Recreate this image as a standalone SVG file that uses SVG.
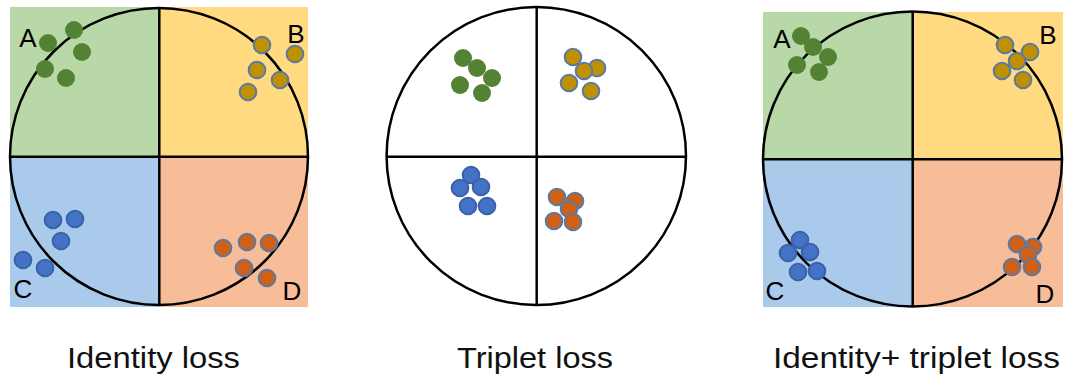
<svg xmlns="http://www.w3.org/2000/svg" width="1070" height="378" viewBox="0 0 1070 378">
<style>
.ring{fill:none;stroke:#000;stroke-width:2.5}
.ax{stroke:#000;stroke-width:2.5}
.g{fill:#548235}
.y{fill:#BF9000;stroke:#5A7AA6;stroke-width:2}
.b{fill:#4472C4;stroke:#3A62A8;stroke-width:2}
.o{fill:#CF6016;stroke:#5A7AA6;stroke-width:2}
.lbl{font-family:"Liberation Sans",Arial,sans-serif;font-size:26px;fill:#000;text-anchor:middle}
.cap{font-family:"Liberation Sans",Arial,sans-serif;font-size:29px;fill:#111}
</style>
<rect width="1070" height="378" fill="#fff"/>

<g id="panel-identity">
  <rect x="10" y="7" width="149.3" height="149.7" fill="#B9D8A7"/>
  <rect x="159.3" y="7" width="148.7" height="149.7" fill="#FFDA80"/>
  <rect x="10" y="156.7" width="149.3" height="150.3" fill="#A9CAEA"/>
  <rect x="159.3" y="156.7" width="148.7" height="150.3" fill="#F6BD98"/>
  <ellipse class="ring" cx="159" cy="156.5" rx="149" ry="148.5"/>
  <line class="ax" x1="159.3" y1="8" x2="159.3" y2="305"/>
  <line class="ax" x1="10" y1="156.7" x2="308" y2="156.7"/>
  <text class="lbl" x="28" y="47">A</text>
  <text class="lbl" x="296" y="43">B</text>
  <text class="lbl" x="23" y="298">C</text>
  <text class="lbl" x="292" y="300">D</text>
  <g id="id-A">
    <circle class="g" cx="48" cy="43" r="9"/>
    <circle class="g" cx="74" cy="30" r="9"/>
    <circle class="g" cx="82" cy="52" r="9"/>
    <circle class="g" cx="45" cy="69" r="9"/>
    <circle class="g" cx="66" cy="78" r="9"/>
  </g>
  <g id="id-B">
    <circle class="y" cx="262" cy="45" r="8.3"/>
    <circle class="y" cx="295" cy="54" r="8.3"/>
    <circle class="y" cx="257" cy="70" r="8.3"/>
    <circle class="y" cx="280" cy="80" r="8.3"/>
    <circle class="y" cx="248" cy="92" r="8.3"/>
  </g>
  <g id="id-C">
    <circle class="b" cx="53" cy="220" r="8.3"/>
    <circle class="b" cx="75" cy="219" r="8.3"/>
    <circle class="b" cx="61" cy="241" r="8.3"/>
    <circle class="b" cx="23" cy="260" r="8.3"/>
    <circle class="b" cx="45" cy="268" r="8.3"/>
  </g>
  <g id="id-D">
    <circle class="o" cx="223" cy="248" r="8.3"/>
    <circle class="o" cx="247" cy="242" r="8.3"/>
    <circle class="o" cx="269" cy="243" r="8.3"/>
    <circle class="o" cx="244" cy="268" r="8.3"/>
    <circle class="o" cx="267" cy="278" r="8.3"/>
  </g>
  <text class="cap" x="67" y="368" textLength="173" lengthAdjust="spacingAndGlyphs">Identity loss</text>
</g>

<g id="panel-triplet">
  <ellipse class="ring" cx="536.3" cy="156" rx="149.7" ry="149"/>
  <line class="ax" x1="536.7" y1="7" x2="536.7" y2="305"/>
  <line class="ax" x1="386.7" y1="156.7" x2="686" y2="156.7"/>
  <g id="tr-A">
    <circle class="g" cx="463" cy="58" r="9"/>
    <circle class="g" cx="477" cy="68" r="9"/>
    <circle class="g" cx="492" cy="78" r="9"/>
    <circle class="g" cx="460" cy="85" r="9"/>
    <circle class="g" cx="482" cy="93" r="9"/>
  </g>
  <g id="tr-B">
    <circle class="y" cx="573" cy="57" r="8.3"/>
    <circle class="y" cx="597" cy="68" r="8.3"/>
    <circle class="y" cx="584" cy="71" r="8.3"/>
    <circle class="y" cx="569" cy="83" r="8.3"/>
    <circle class="y" cx="591" cy="91" r="8.3"/>
  </g>
  <g id="tr-C">
    <circle class="b" cx="471" cy="175" r="8.3"/>
    <circle class="b" cx="460" cy="188" r="8.3"/>
    <circle class="b" cx="481" cy="187" r="8.3"/>
    <circle class="b" cx="468" cy="206" r="8.3"/>
    <circle class="b" cx="487" cy="206" r="8.3"/>
  </g>
  <g id="tr-D">
    <circle class="o" cx="557" cy="197" r="8.3"/>
    <circle class="o" cx="575" cy="201" r="8.3"/>
    <circle class="o" cx="569" cy="209" r="8.3"/>
    <circle class="o" cx="554" cy="221" r="8.3"/>
    <circle class="o" cx="573" cy="222" r="8.3"/>
  </g>
  <text class="cap" x="457" y="368" textLength="156" lengthAdjust="spacingAndGlyphs">Triplet loss</text>
</g>

<g id="panel-combined">
  <rect x="763" y="12" width="149.7" height="147.3" fill="#B9D8A7"/>
  <rect x="912.7" y="12" width="150.3" height="147.3" fill="#FFDA80"/>
  <rect x="763" y="159.3" width="149.7" height="147.7" fill="#A9CAEA"/>
  <rect x="912.7" y="159.3" width="150.3" height="147.7" fill="#F6BD98"/>
  <ellipse class="ring" cx="912.5" cy="159" rx="149.5" ry="147.5"/>
  <line class="ax" x1="912.7" y1="12" x2="912.7" y2="306"/>
  <line class="ax" x1="763" y1="159.3" x2="1062" y2="159.3"/>
  <text class="lbl" x="782" y="48">A</text>
  <text class="lbl" x="1048" y="44">B</text>
  <text class="lbl" x="775" y="300">C</text>
  <text class="lbl" x="1045" y="303">D</text>
  <g id="co-A">
    <circle class="g" cx="801" cy="36" r="9"/>
    <circle class="g" cx="813" cy="47" r="9"/>
    <circle class="g" cx="828" cy="57" r="9"/>
    <circle class="g" cx="797" cy="65" r="9"/>
    <circle class="g" cx="819" cy="72" r="9"/>
  </g>
  <g id="co-B">
    <circle class="y" cx="1005" cy="45" r="8.3"/>
    <circle class="y" cx="1030" cy="52" r="8.3"/>
    <circle class="y" cx="1017" cy="61" r="8.3"/>
    <circle class="y" cx="1002" cy="71" r="8.3"/>
    <circle class="y" cx="1023" cy="80" r="8.3"/>
  </g>
  <g id="co-C">
    <circle class="b" cx="800" cy="240" r="8.3"/>
    <circle class="b" cx="788" cy="253" r="8.3"/>
    <circle class="b" cx="810" cy="252" r="8.3"/>
    <circle class="b" cx="798" cy="272" r="8.3"/>
    <circle class="b" cx="817" cy="271" r="8.3"/>
  </g>
  <g id="co-D">
    <circle class="o" cx="1017" cy="244" r="8.3"/>
    <circle class="o" cx="1033" cy="247" r="8.3"/>
    <circle class="o" cx="1028" cy="255" r="8.3"/>
    <circle class="o" cx="1012" cy="267" r="8.3"/>
    <circle class="o" cx="1032" cy="267" r="8.3"/>
  </g>
  <text class="cap" x="773" y="368" textLength="287" lengthAdjust="spacingAndGlyphs">Identity+ triplet loss</text>
</g>
</svg>
